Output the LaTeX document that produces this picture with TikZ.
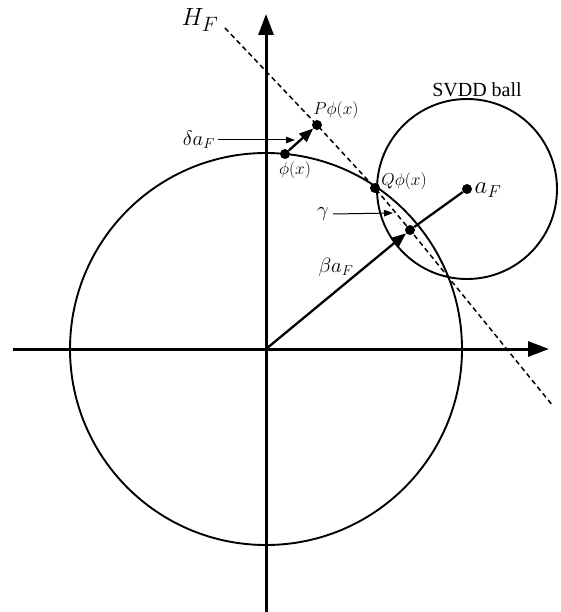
\documentclass[tikz,border=0pt]{standalone}
\usepackage{fontspec}
\setmainfont{Liberation Serif}
\usetikzlibrary{arrows.meta}
\begin{document}
\begin{tikzpicture}[x=1pt,y=-1pt,
  dot/.style={circle,fill,inner sep=0,minimum size=10pt},
  axisline/.style={line width=3pt,-{Triangle[length=21pt,width=15pt]}},
  vec/.style={line width=2.3pt,-{Triangle[length=14pt,width=11pt]}},
  pointer/.style={line width=1pt,-{Triangle[length=9pt,width=6.5pt]}},
  ball/.style={draw,circle,line width=1.9pt,inner sep=0},
  hyper/.style={line width=1.5pt,dash pattern=on 5pt off 3.5pt},
  lbl/.style={inner sep=0}]
\useasboundingbox (0,0) rectangle (561,612);
% coordinates
\coordinate (O) at (266,349);
\coordinate (xL) at (13,349);
\coordinate (xR) at (549,349);
\coordinate (yB) at (266,612);
\coordinate (yT) at (266,14);
\coordinate (Hs) at (225,28);
\coordinate (He) at (553,406);
% circles
\node[ball,minimum size=392pt] (big) at (O) {};
\node[dot] (aF) at (467,189) {};
\node[ball,minimum size=180pt] (svdd) at (aF.center) {};
% points
\node[dot] (phi) at (285,154) {};
\node[dot] (P) at (317,125) {};
\node[dot] (Q) at (375,188) {};
\node[dot] (beta) at (410,230) {};
% hyperplane
\draw[hyper] (Hs) -- (P.center) -- (Q.center) -- (beta.center) -- (He);
% axes
\draw[axisline] (xL) -- (xR);
\draw[axisline] (yB) -- (yT);
% vectors
\draw[vec] (phi) -- (P);
\draw[vec] (O) -- (beta);
\draw[line width=2.3pt] (beta) -- (aF);
% labels
\node[lbl,font=\fontsize{29}{31}\selectfont] (HF) at (200,20) {$H_F$};
\node[lbl,font=\fontsize{20}{22}\selectfont] (svddlbl) at (477,90) {SVDD ball};
\node[lbl,font=\fontsize{17}{19}\selectfont] (Plbl) at (336,110) {$P\phi(x)$};
\node[lbl,font=\fontsize{17}{19}\selectfont] (philbl) at (295,170) {$\phi(x)$};
\node[lbl,font=\fontsize{16}{18}\selectfont] (Qlbl) at (404,181) {$Q\phi(x)$};
\node[lbl,font=\fontsize{25}{27}\selectfont] (aFlbl) at (488,190) {$a_F$};
\node[lbl,font=\fontsize{21}{23}\selectfont] (delta) at (199,140) {$\delta a_F$};
\node[lbl,font=\fontsize{21}{23}\selectfont] (gam) at (323,214) {$\gamma$};
\node[lbl,font=\fontsize{21}{23}\selectfont] (betalbl) at (336,267) {$\beta a_F$};
% pointers
\coordinate (dend) at (295,140);
\coordinate (gend) at (393,213);
\draw[pointer] ([xshift=3pt]delta.east) -- (dend);
\draw[pointer] ([xshift=4pt]gam.east) -- (gend);
\end{tikzpicture}
\end{document}
